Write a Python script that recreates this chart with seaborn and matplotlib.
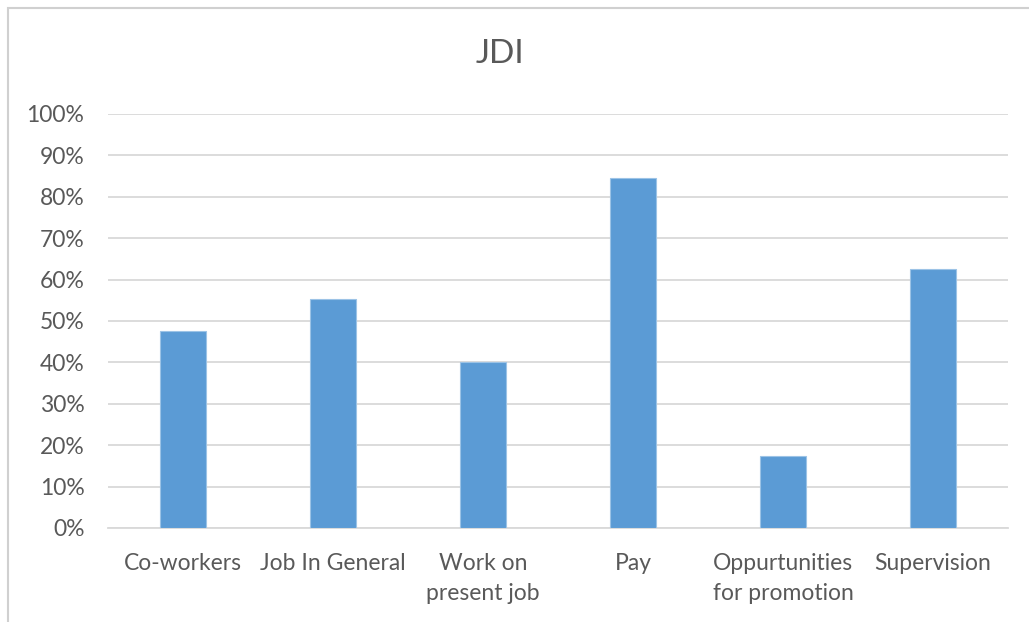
import matplotlib
matplotlib.use("Agg")
import matplotlib.pyplot as plt
import matplotlib.patches as mpatches
from matplotlib.ticker import PercentFormatter, MultipleLocator
import seaborn as sns
import pandas as pd

categories = ["Co-workers", "Job In General", "Work on\npresent job", "Pay",
              "Oppurtunities\nfor promotion", "Supervision"]
values = [0.477, 0.553, 0.401, 0.845, 0.175, 0.626]
title = "JDI"

df = pd.DataFrame({"facet": categories, "share": values})

sns.set_theme(style="white")
plt.rcParams["font.family"] = ["Lato", "DejaVu Sans"]

text_color = "#595959"
grid_color = "#d9d9d9"
bar_color = "#5b9bd5"

fig = plt.figure(figsize=(10.29, 6.22), dpi=100)
ax = fig.add_axes([108 / 1029, 1 - 528 / 622, 900 / 1029, 414 / 622])

sns.barplot(data=df, x="facet", y="share", color=bar_color, width=0.31,
            saturation=1, edgecolor="#9cc3e6", linewidth=0.8, ax=ax, zorder=3)

ax.set_ylim(0, 1.0)
ax.set_xlim(-0.5, len(categories) - 0.5)
ax.yaxis.set_major_locator(MultipleLocator(0.1))
ax.yaxis.set_major_formatter(PercentFormatter(1.0, decimals=0))
ax.grid(axis="y", color=grid_color, linewidth=1.3, zorder=0)
ax.set_axisbelow(True)
for side in ["top", "right", "left"]:
    ax.spines[side].set_visible(False)
ax.spines["bottom"].set_color(grid_color)
ax.spines["bottom"].set_linewidth(1.3)
ax.tick_params(axis="both", length=0, labelsize=16.5, colors=text_color)
ax.tick_params(axis="y", pad=17)
ax.tick_params(axis="x", pad=18)
for lbl in ax.get_xticklabels():
    lbl.set_linespacing(1.55)
ax.set_xlabel("")
ax.set_ylabel("")

fig.text(500 / 1029, 1 - 54 / 622, title, ha="center", va="center",
         fontsize=24, color=text_color)

# chart frame
fig.patches.append(mpatches.Rectangle((8 / 1029, -0.1), 1.2, 1 - 8 / 622 + 0.1,
                                      transform=fig.transFigure, fill=False,
                                      edgecolor="#d0d0d0", linewidth=1.5))

fig.savefig("out.png", dpi=100)
